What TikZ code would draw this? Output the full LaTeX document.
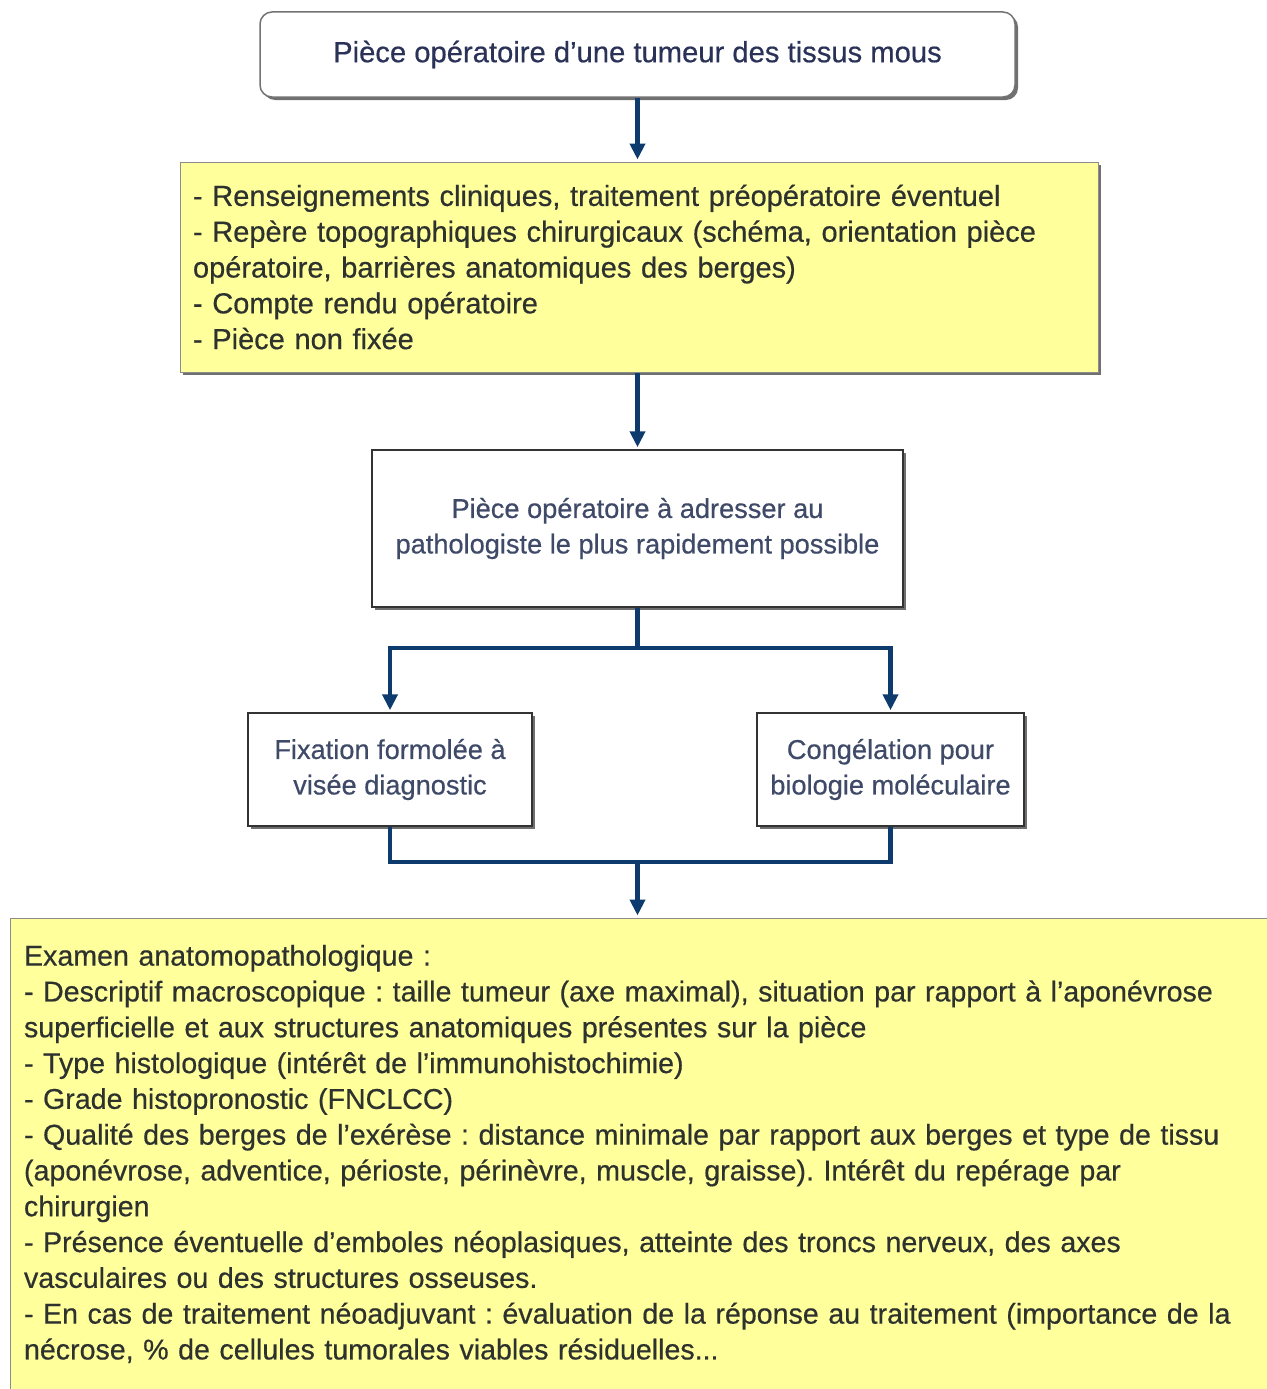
\documentclass[tikz,border=0pt]{standalone}
\usepackage{fontspec}
\setmainfont{Liberation Sans}[FakeBold=0.5]
\usetikzlibrary{arrows.meta,shadows}
\definecolor{navy}{HTML}{0D3B6E}
\definecolor{ylw}{HTML}{FFFF9C}
\definecolor{ytext}{HTML}{2E322E}
\definecolor{btext}{HTML}{3F4A68}
\definecolor{ttext}{HTML}{2A3258}
\frenchspacing
\begin{document}
\begin{tikzpicture}[x=1pt,y=-1pt,
  conn/.style={draw=navy, line width=4.5pt},
  arr/.style={conn, -{Triangle[length=16pt,width=15pt]}, shorten >=2pt},
  shad/.style={drop shadow={shadow xshift=3pt,shadow yshift=-3pt,fill=black!70,opacity=0.8}},
  whitebox/.style={draw=black!80, line width=1.5pt, fill=white, shad, align=center,
    text=btext, font=\fontsize{27.2}{35.5}\selectfont, inner sep=0pt},
  ybox/.style={draw=black!45, line width=1pt, fill=ylw, shad, align=left,
    text=ytext, font=\fontsize{29}{35.8}\selectfont, inner xsep=13pt, inner ysep=0pt}]
\useasboundingbox (0,0) rectangle (1266,1389);

\node[whitebox, rounded corners=12pt, draw=black!55, text=ttext,
  font=\fontsize{29.2}{36}\selectfont, minimum width=755pt, minimum height=85pt]
  (top) at (637.5,54.5) {Pièce opératoire d’une tumeur des tissus mous};

\node[ybox, text width=892pt, minimum height=210pt] (y1) at (639,267)
{- Renseignements cliniques, traitement préopératoire éventuel\\
- Repère topographiques chirurgicaux (schéma, orientation pièce\\
opératoire, barrières anatomiques des berges)\\
- Compte rendu opératoire\\
- Pièce non fixée};

\node[whitebox, minimum width=531pt, minimum height=157pt] (b3) at (637.5,528.5)
{Pièce opératoire à adresser au\\pathologiste le plus rapidement possible};

\node[whitebox, minimum width=284pt, minimum height=113pt] (bL) at (390,769.5)
{Fixation formolée à\\visée diagnostic};
\node[whitebox, minimum width=267pt, minimum height=113pt] (bR) at (890.5,769.5)
{Congélation pour\\biologie moléculaire};

\node[ybox, inner xsep=14pt, text width=1242pt, minimum height=472pt,
  font=\fontsize{28.6}{35.8}\selectfont] (y2) at (645,1154)
{Examen anatomopathologique :\\
- Descriptif macroscopique : taille tumeur (axe maximal), situation par rapport à l’aponévrose\\
superficielle et aux structures anatomiques présentes sur la pièce\\
- Type histologique (intérêt de l’immunohistochimie)\\
- Grade histopronostic (FNCLCC)\\
- Qualité des berges de l’exérèse : distance minimale par rapport aux berges et type de tissu\\
(aponévrose, adventice, périoste, périnèvre, muscle, graisse). Intérêt du repérage par\\
chirurgien\\
- Présence éventuelle d’emboles néoplasiques, atteinte des troncs nerveux, des axes\\
vasculaires ou des structures osseuses.\\
- En cas de traitement néoadjuvant : évaluation de la réponse au traitement (importance de la\\
nécrose, \% de cellules tumorales viables résiduelles...};

\draw[arr] (top.south) -- (top.south |- y1.north);
\draw[arr] (y1.south -| b3.north) -- (b3.north);
\coordinate (s1) at (637.5,648);
\draw[conn] (b3.south) -- (s1);
\draw[arr] (s1) -| (bL.north);
\draw[arr] (s1) -| (bR.north);
\coordinate (m1) at (637.5,862);
\draw[conn] (bL.south) |- (m1);
\draw[conn] (bR.south) |- (m1);
\draw[arr] (m1) -- (m1 |- y2.north);
\end{tikzpicture}
\end{document}
